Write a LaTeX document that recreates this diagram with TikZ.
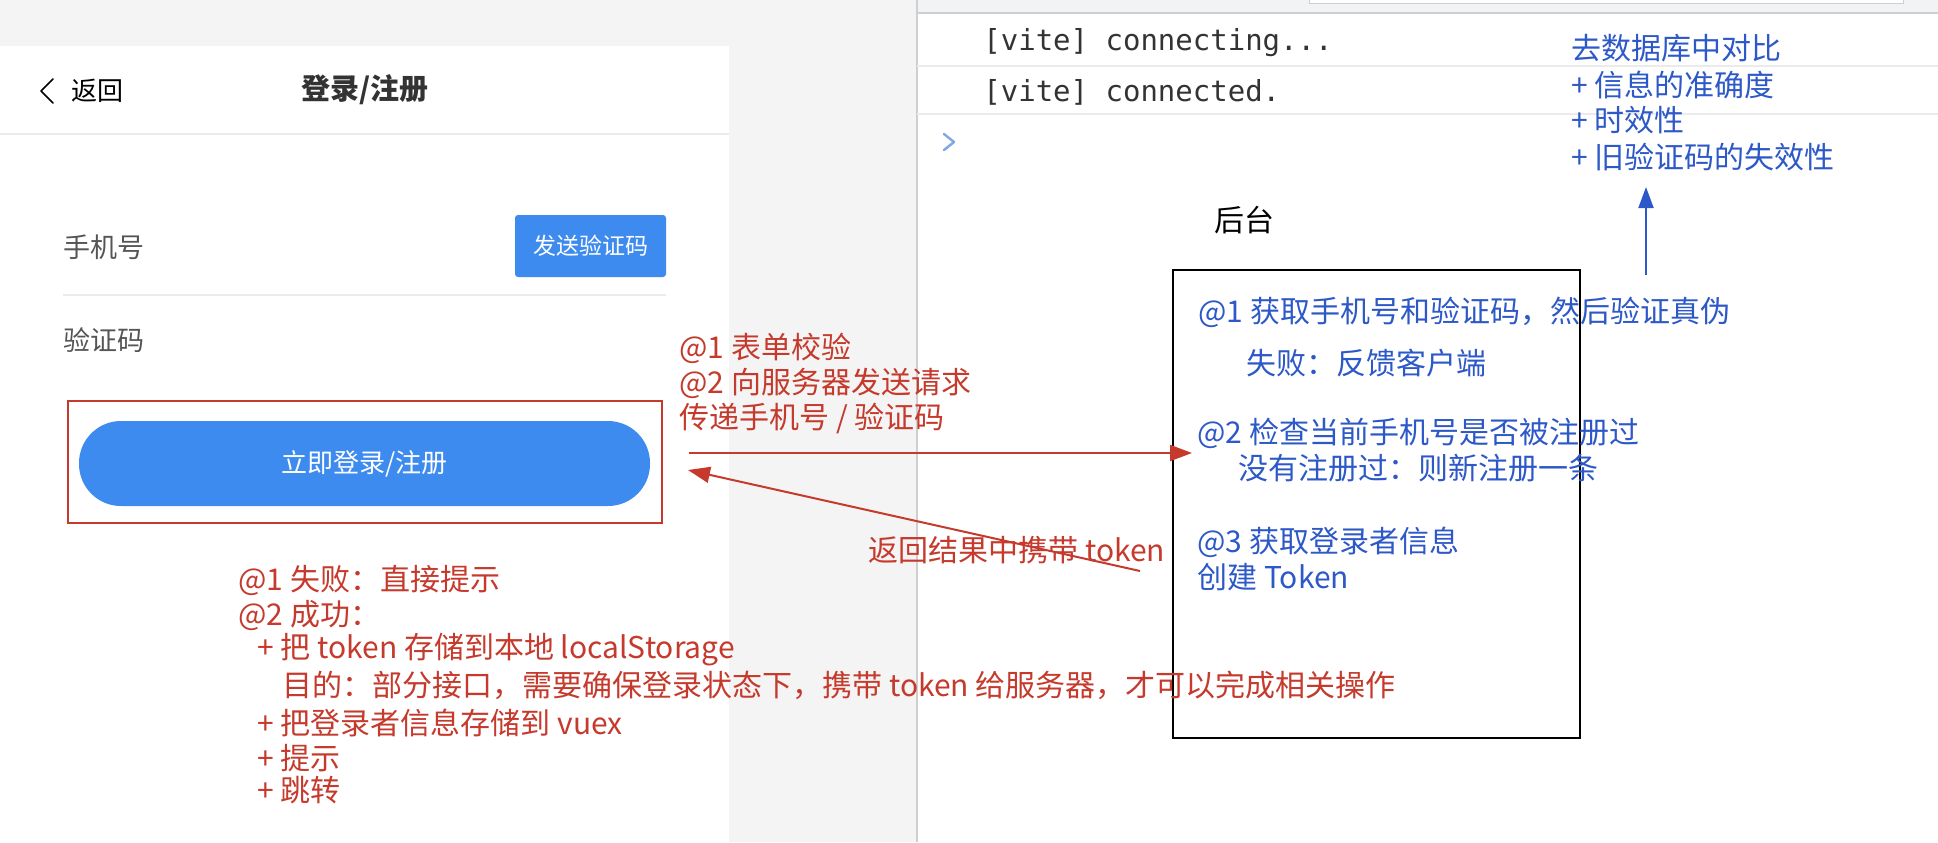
\documentclass[tikz,border=0pt]{standalone}
\usepackage{fontspec}
\setmainfont{Noto Sans CJK SC}
\setmonofont{DejaVu Sans Mono}
\usetikzlibrary{positioning,arrows.meta,calc}
\definecolor{note}{HTML}{C53A2C}
\definecolor{srv}{HTML}{2D58C8}
\definecolor{vant}{HTML}{3E8BF0}
\definecolor{backdrop}{HTML}{F4F4F4}
\definecolor{topstrip}{HTML}{F1F3F4}
\definecolor{rule}{HTML}{EBEBEB}
\definecolor{edge}{HTML}{CFCFCF}
\definecolor{label}{HTML}{555555}
\definecolor{caret}{HTML}{7FA6E6}

\begin{document}
\begin{tikzpicture}[x=0.5pt,y=-0.5pt,font=\fontsize{15}{18}\selectfont,
  txt/.style={anchor=west,inner sep=0pt},
  rnote/.style={txt,text=note},
  bnote/.style={txt,text=srv},
  rar/.style={-{Triangle[length=11pt,width=8pt]},note,line width=1pt},
  bar/.style={-{Triangle[length=10.5pt,width=7.5pt]},srv,line width=1pt}]
\useasboundingbox (0,0) rectangle (1938,842);
% screen background
\fill[backdrop] (0,0) rectangle (917,842);
\fill[white] (917,0) rectangle (1938,842);
\fill[white] (0,46) rectangle (729,842);
\fill[topstrip] (917,0) rectangle (1938,13);
\draw[edge,fill=white,line width=0.5pt] (1309,-2) rectangle (1903,3);
\draw[edge,line width=0.6pt] (917,13) -- (1938,13);
\draw[edge,line width=0.8pt] (917,0) -- (917,842);
\draw[rule,line width=0.8pt] (917,66) -- (1938,66) (917,114) -- (1938,114);
\draw[rule,line width=0.6pt] (0,134) -- (729,134) (63,295) -- (666,295);

% login page
\draw[line width=0.8pt,line cap=round,line join=round] (53,79) -- (41,91) -- (53,103);
\node[txt,font=\fontsize{13}{15}\selectfont] (back) at (71,91) {返回};
\node[inner sep=0pt,text=black!80,font=\fontsize{14.5}{17}\selectfont\bfseries] (title) at (365,90) {登录/注册};
\node[txt,text=label,font=\fontsize{13.5}{16}\selectfont] (tel) at (63,247) {手机号};
\node[fill=vant,text=white,rounded corners=1.5pt,minimum width=75.5pt,minimum height=31pt,
  inner sep=0pt,font=\fontsize{11.5}{14}\selectfont] (send) at (590.5,246) {发送验证码};
\node[txt,text=label,font=\fontsize{13.5}{16}\selectfont] (code) at (63,340) {验证码};
\node[draw=note,line width=0.75pt,minimum width=297pt,minimum height=61pt,inner sep=0pt] (frm) at (365,462) {};
\node[fill=vant,text=white,rounded corners=21pt,minimum width=285.5pt,minimum height=42.5pt,
  inner sep=0pt,font=\fontsize{13}{15}\selectfont] (go) at (364.5,463.5) {立即登录/注册};

% console
\node[txt,font=\ttfamily\fontsize{14.5}{17}\selectfont,text=black!80] (log1) at (983,43) {[vite] connecting...};
\node[txt,font=\ttfamily\fontsize{14.5}{17}\selectfont,text=black!80] (log2) at (983,92) {[vite] connected.};
\draw[caret,line width=1.2pt,line cap=round,line join=round] (944,134) -- (954,142) -- (944,150);

% server side
\node[inner sep=0pt] (srvname) at (1244,220) {后台};
\node[draw,line width=0.75pt,minimum width=203.5pt,minimum height=234pt,inner sep=0pt] (srvbox) at (1376.5,504) {};
\foreach \x/\y/\msg [count=\i] in {1198/312/{@1 获取手机号和验证码，然后验证真伪},
    1246/363/{失败：反馈客户端},1197/433/{@2 检查当前手机号是否被注册过},
    1238/468/{没有注册过：则新注册一条},1197/542/{@3 获取登录者信息},1197/577/{创建 Token}}
  \node[bnote] (chk\i) at (\x,\y) {\msg};
\foreach \y/\msg [count=\i] in {48/{去数据库中对比},85/{+ 信息的准确度},120/{+ 时效性},157/{+ 旧验证码的失效性}}
  \node[bnote] (db\i) at (1571,\y) {\msg};
\coordinate (dbs) at (1646,275);
\coordinate (dbe) at (1646,187);
\draw[bar] (dbs) -- (dbe);

% request and response
\foreach \y/\msg [count=\i] in {348/{@1 表单校验},383/{@2 向服务器发送请求},418/{传递手机号 / 验证码}}
  \node[rnote] (req\i) at (679,\y) {\msg};
\coordinate (reqs) at (689,453);
\coordinate (reqe) at (1192,453);
\draw[rar] (reqs) -- (reqe);
\coordinate (rets) at (1140,571);
\coordinate (rete) at (688,470);
\node[rnote] (ret) at (868,550) {返回结果中携带 token};
\draw[rar] (rets) -- (rete);

% client handling
\foreach \x/\y/\msg [count=\i] in {238/580/{@1 失败：直接提示},238/615/{@2 成功：},
    257/650/{+ 把 token 存储到本地 localStorage},
    282/685/{目的：部分接口，需要确保登录状态下，携带 token 给服务器，才可以完成相关操作},
    257/723/{+ 把登录者信息存储到 vuex},257/758/{+ 提示},257/790/{+ 跳转}}
  \node[rnote] (ok\i) at (\x,\y) {\msg};
\end{tikzpicture}
\end{document}
